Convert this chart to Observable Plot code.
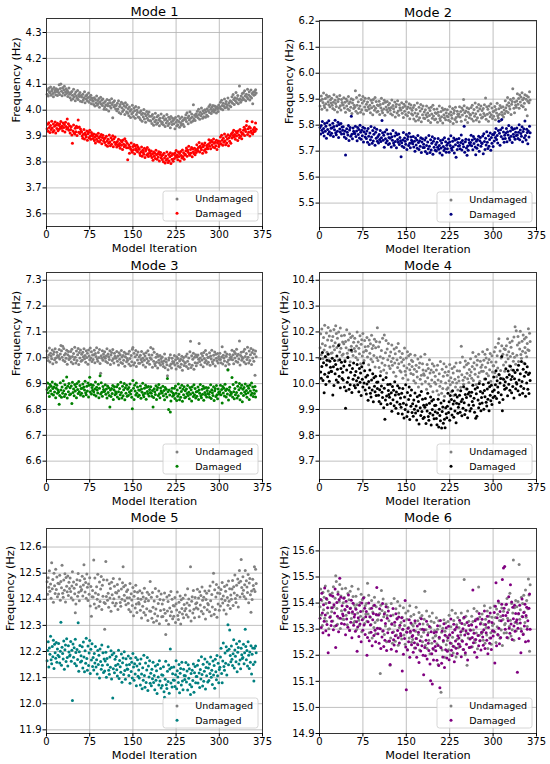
<!DOCTYPE html>
<html><head><meta charset="utf-8">
<script src="https://cdn.jsdelivr.net/npm/d3@7"></script>
<script src="https://cdn.jsdelivr.net/npm/@observablehq/plot@0.6"></script>
<style>
body{margin:0;background:#fff;}
#wrap{position:relative;width:550px;height:764px;font-family:"DejaVu Sans",sans-serif;overflow:hidden;}
#wrap svg{position:absolute;}
#wrap svg, #wrap svg text{font-family:"DejaVu Sans",sans-serif !important;}
</style></head><body><div id="wrap"></div>
<script>
const xTicks=[0,75,150,225,300,375];
const titles=["Mode 1","Mode 2","Mode 3","Mode 4","Mode 5","Mode 6"];
const legendLabels=["Undamaged","Damaged"];
const xLabel="Model Iteration";
const yLabel="Frequency (Hz)";
const undamagedColor="#808080";
const damagedColors=["#ff0000","#000080","#008000","#000000","#008080","#800080"];
const yTicks1=[3.6,3.7,3.8,3.9,4.0,4.1,4.2,4.3];
const yTicks2=[5.5,5.6,5.7,5.8,5.9,6.0,6.1,6.2];
const yTicks3=[6.6,6.7,6.8,6.9,7.0,7.1,7.2,7.3];
const yTicks4=[9.7,9.8,9.9,10.0,10.1,10.2,10.3,10.4];
const yTicks5=[11.9,12.0,12.1,12.2,12.3,12.4,12.5,12.6];
const yTicks6=[14.9,15.0,15.1,15.2,15.3,15.4,15.5,15.6];

const m1Undamaged=[
4.062,4.078,4.055,4.085,4.071,4.066,4.09,4.058,4.074,4.081,4.064,4.052,4.088,4.069,4.077,4.06,4.083,4.072,4.057,4.079,
4.068,4.098,4.061,4.084,4.101,4.073,4.056,4.087,4.066,4.079,4.092,4.059,4.071,4.083,4.064,4.076,4.053,4.069,4.086,4.062,
4.048,4.067,4.039,4.072,4.058,4.044,4.081,4.052,4.063,4.036,4.07,4.055,4.046,4.076,4.041,4.061,4.053,4.068,4.035,4.057,
4.051,4.033,4.062,4.04,4.048,4.071,4.029,4.055,4.043,4.06,4.036,4.049,4.066,4.031,4.052,4.041,4.058,4.025,4.047,4.038,
4.035,4.022,4.048,4.016,4.041,4.029,4.055,4.019,4.037,4.026,4.045,4.011,4.033,4.05,4.024,4.039,4.018,4.043,4.028,4.004,
4.012,4.034,4.021,4.003,4.041,4.017,4.026,3.997,4.038,4.015,4.029,4.008,4.044,4.022,3.971,4.031,4.013,4.036,4.019,4.006,
4.018,3.998,4.027,4.005,4.036,3.991,4.014,4.022,3.986,4.031,4.009,3.995,4.025,4.002,4.017,3.983,4.029,4.011,3.993,4.021,
3.988,4.006,3.979,4.012,3.996,3.972,4.003,3.985,4.019,3.991,3.976,4.008,3.998,3.969,4.014,3.983,4.001,3.992,3.974,4.01,
3.972,3.991,3.964,3.998,3.983,3.957,3.988,3.975,4.003,3.966,3.986,3.953,3.979,3.995,3.969,3.984,3.961,3.993,3.977,3.959,
3.958,3.977,3.949,3.983,3.966,3.942,3.972,3.955,3.988,3.961,3.946,3.975,3.952,3.98,3.963,3.94,3.969,3.957,3.985,3.948,
3.953,3.971,3.944,3.978,3.962,3.937,3.967,3.951,3.983,3.958,3.941,3.973,3.949,3.965,3.932,3.976,3.955,3.945,3.969,3.96,
3.948,3.966,3.928,3.972,3.953,3.939,3.961,3.944,3.977,3.956,3.934,3.968,3.951,3.942,3.974,3.958,3.946,3.963,3.937,3.97,
3.965,3.982,3.956,3.99,3.971,3.948,3.978,3.962,3.994,3.969,3.953,3.985,3.974,3.958,4.021,3.967,3.981,3.96,3.976,3.986,
3.978,3.996,3.971,4.004,3.983,3.965,3.992,3.979,4.008,3.986,3.969,3.998,3.975,3.989,4.002,3.973,3.994,3.981,4.006,3.977,
3.998,4.014,3.991,4.021,4.004,3.987,4.011,3.996,4.018,4.003,3.993,4.016,4.001,4.009,3.989,4.013,4.006,3.995,4.02,4.008,
4.012,4.031,4.006,4.038,4.018,4.002,4.027,4.015,4.043,4.009,4.024,4.034,4.011,4.021,4.047,4.005,4.029,4.017,4.036,4.013,
4.033,4.052,4.027,4.061,4.041,4.022,4.048,4.036,4.068,4.03,4.045,4.057,4.025,4.039,4.093,4.044,4.031,4.055,4.038,4.064,
4.048,4.067,4.041,4.075,4.056,4.036,4.062,4.05,4.081,4.044,4.059,4.071,4.039,4.053,4.078,4.047,4.064,4.025,4.069,4.058,
4.072,4.061,4.079,4.066];
const m1Damaged=[
3.928,3.946,3.919,3.952,3.933,3.914,3.941,3.925,3.957,3.931,3.916,3.947,3.922,3.938,3.954,3.912,3.943,3.929,3.95,3.921,
3.942,3.926,3.947,3.935,3.956,3.93,3.939,3.921,3.951,3.933,3.945,3.916,3.953,3.937,3.927,3.966,3.932,3.948,3.923,3.94,
3.912,3.925,3.936,3.904,3.872,3.92,3.943,3.913,3.908,3.93,3.917,3.938,3.902,3.933,3.962,3.915,3.935,3.91,3.927,3.919,
3.917,3.9,3.892,3.907,3.925,3.889,3.912,3.904,3.897,3.92,3.884,3.909,3.915,3.894,3.923,3.899,3.888,3.914,3.906,3.901,
3.891,3.908,3.883,3.897,3.873,3.905,3.888,3.9,3.88,3.911,3.894,3.877,3.898,3.885,3.906,3.87,3.895,3.903,3.882,3.89,
3.875,3.893,3.866,3.899,3.88,3.861,3.888,3.872,3.904,3.878,3.863,3.894,3.869,3.885,3.901,3.859,3.89,3.876,3.897,3.868,
3.874,3.858,3.879,3.867,3.888,3.862,3.871,3.853,3.883,3.865,3.877,3.848,3.885,3.869,3.859,3.89,3.864,3.88,3.855,3.872,
3.809,3.855,3.866,3.834,3.858,3.85,3.873,3.843,3.838,3.86,3.847,3.868,3.832,3.863,3.852,3.845,3.865,3.84,3.857,3.849,
3.85,3.833,3.825,3.84,3.858,3.822,3.845,3.837,3.83,3.853,3.817,3.842,3.848,3.827,3.856,3.832,3.821,3.847,3.839,3.834,
3.825,3.842,3.817,3.831,3.807,3.839,3.822,3.834,3.814,3.845,3.828,3.811,3.832,3.819,3.84,3.804,3.829,3.837,3.816,3.824,
3.81,3.828,3.801,3.834,3.815,3.796,3.823,3.807,3.839,3.813,3.798,3.829,3.804,3.82,3.836,3.794,3.825,3.811,3.832,3.803,
3.83,3.814,3.835,3.823,3.844,3.818,3.827,3.809,3.839,3.821,3.833,3.804,3.841,3.825,3.815,3.846,3.82,3.836,3.811,3.828,
3.83,3.843,3.854,3.822,3.846,3.838,3.861,3.831,3.826,3.848,3.835,3.856,3.82,3.851,3.84,3.833,3.853,3.828,3.845,3.837,
3.867,3.85,3.842,3.857,3.875,3.839,3.862,3.854,3.847,3.87,3.834,3.859,3.865,3.844,3.873,3.849,3.838,3.864,3.856,3.851,
3.869,3.886,3.861,3.875,3.851,3.883,3.866,3.878,3.858,3.889,3.872,3.855,3.876,3.863,3.884,3.848,3.873,3.881,3.86,3.868,
3.879,3.897,3.87,3.903,3.884,3.865,3.892,3.876,3.908,3.882,3.867,3.898,3.873,3.889,3.905,3.863,3.894,3.88,3.901,3.872,
3.909,3.893,3.914,3.902,3.923,3.897,3.906,3.888,3.918,3.9,3.912,3.883,3.92,3.904,3.894,3.925,3.899,3.915,3.89,3.907,
3.91,3.923,3.934,3.902,3.926,3.918,3.941,3.957,3.906,3.928,3.915,3.936,3.9,3.931,3.92,3.913,3.955,3.908,3.925,3.917,
3.933,3.919,3.951,3.926];
const m2Undamaged=[
5.874,5.895,5.912,5.861,5.9,5.887,5.924,5.876,5.868,5.903,5.882,5.916,5.858,5.908,5.89,5.879,5.911,5.871,5.898,5.885,
5.904,5.877,5.864,5.888,5.917,5.859,5.896,5.883,5.872,5.909,5.851,5.891,5.901,5.867,5.914,5.875,5.858,5.899,5.887,5.879,
5.878,5.906,5.866,5.888,5.85,5.901,5.874,5.893,5.861,5.91,5.883,5.856,5.89,5.869,5.902,5.845,5.885,5.898,5.864,5.877,
5.869,5.933,5.854,5.907,5.877,5.846,5.89,5.864,5.915,5.874,5.85,5.899,5.859,5.885,5.91,5.843,5.893,5.87,5.904,5.858,
5.881,5.856,5.889,5.87,5.904,5.862,5.877,5.848,5.896,5.867,5.886,5.84,5.899,5.873,5.857,5.907,5.865,5.891,5.851,5.878,
5.854,5.875,5.892,5.841,5.88,5.867,5.904,5.856,5.848,5.883,5.862,5.896,5.838,5.888,5.87,5.859,5.891,5.851,5.878,5.865,
5.884,5.857,5.844,5.868,5.897,5.839,5.876,5.863,5.852,5.889,5.831,5.871,5.881,5.847,5.894,5.855,5.838,5.879,5.867,5.859,
5.858,5.886,5.846,5.868,5.83,5.881,5.854,5.873,5.841,5.89,5.863,5.836,5.87,5.849,5.882,5.825,5.865,5.878,5.844,5.857,
5.839,5.868,5.824,5.877,5.847,5.816,5.86,5.834,5.885,5.844,5.82,5.869,5.829,5.855,5.88,5.813,5.863,5.84,5.874,5.828,
5.851,5.826,5.859,5.84,5.874,5.832,5.847,5.818,5.866,5.837,5.856,5.81,5.869,5.843,5.827,5.877,5.835,5.861,5.821,5.848,
5.824,5.845,5.862,5.811,5.85,5.837,5.874,5.826,5.818,5.853,5.832,5.866,5.808,5.858,5.84,5.829,5.861,5.821,5.848,5.835,
5.859,5.832,5.819,5.843,5.872,5.814,5.851,5.838,5.827,5.864,5.806,5.846,5.856,5.822,5.869,5.83,5.813,5.854,5.842,5.834,
5.843,5.871,5.831,5.853,5.815,5.866,5.839,5.858,5.899,5.875,5.848,5.821,5.855,5.834,5.867,5.81,5.85,5.863,5.829,5.842,
5.839,5.868,5.824,5.877,5.847,5.816,5.86,5.834,5.885,5.844,5.82,5.869,5.829,5.855,5.88,5.813,5.863,5.84,5.874,5.828,
5.856,5.831,5.864,5.845,5.879,5.837,5.905,5.823,5.871,5.842,5.861,5.815,5.874,5.848,5.832,5.882,5.84,5.866,5.826,5.853,
5.834,5.855,5.872,5.821,5.86,5.847,5.884,5.836,5.828,5.863,5.842,5.876,5.818,5.868,5.85,5.839,5.871,5.831,5.858,5.845,
5.894,5.867,5.854,5.878,5.907,5.849,5.886,5.873,5.862,5.899,5.841,5.881,5.891,5.94,5.904,5.865,5.848,5.889,5.877,5.869,
5.893,5.921,5.881,5.903,5.865,5.916,5.889,5.908,5.876,5.925,5.898,5.871,5.905,5.884,5.917,5.86,5.9,5.913,5.836,5.892,
5.908,5.886,5.929,5.897];
const m2Damaged=[
5.791,5.766,5.799,5.78,5.814,5.772,5.787,5.758,5.806,5.777,5.796,5.75,5.809,5.783,5.767,5.817,5.775,5.801,5.761,5.788,
5.769,5.79,5.807,5.756,5.795,5.782,5.819,5.771,5.763,5.798,5.777,5.811,5.753,5.803,5.785,5.774,5.806,5.766,5.793,5.78,
5.794,5.767,5.754,5.778,5.685,5.749,5.786,5.773,5.762,5.799,5.741,5.781,5.791,5.757,5.834,5.765,5.748,5.789,5.777,5.769,
5.768,5.796,5.756,5.778,5.74,5.791,5.764,5.783,5.751,5.8,5.773,5.746,5.78,5.759,5.792,5.735,5.775,5.788,5.754,5.767,
5.749,5.778,5.734,5.787,5.757,5.726,5.77,5.744,5.795,5.754,5.73,5.779,5.739,5.765,5.79,5.723,5.773,5.75,5.784,5.738,
5.756,5.731,5.764,5.745,5.779,5.737,5.752,5.818,5.771,5.742,5.761,5.715,5.774,5.748,5.732,5.782,5.74,5.766,5.726,5.753,
5.729,5.75,5.767,5.716,5.755,5.742,5.779,5.731,5.723,5.758,5.737,5.771,5.713,5.763,5.745,5.734,5.766,5.726,5.753,5.74,
5.678,5.732,5.719,5.743,5.772,5.714,5.751,5.738,5.727,5.764,5.706,5.746,5.756,5.722,5.769,5.73,5.713,5.754,5.742,5.734,
5.728,5.756,5.716,5.738,5.7,5.751,5.724,5.743,5.711,5.76,5.733,5.706,5.74,5.719,5.752,5.695,5.735,5.748,5.714,5.727,
5.714,5.743,5.699,5.752,5.722,5.691,5.735,5.709,5.76,5.719,5.695,5.744,5.704,5.73,5.755,5.688,5.738,5.715,5.749,5.703,
5.726,5.701,5.734,5.715,5.749,5.707,5.722,5.693,5.741,5.712,5.731,5.685,5.744,5.718,5.702,5.752,5.71,5.736,5.696,5.723,
5.709,5.73,5.747,5.696,5.735,5.722,5.759,5.711,5.703,5.738,5.717,5.751,5.693,5.743,5.725,5.676,5.746,5.706,5.733,5.72,
5.749,5.722,5.709,5.733,5.762,5.704,5.741,5.728,5.717,5.796,5.696,5.736,5.746,5.712,5.684,5.72,5.703,5.744,5.732,5.724,
5.733,5.761,5.721,5.743,5.705,5.756,5.729,5.748,5.716,5.686,5.738,5.711,5.745,5.724,5.757,5.7,5.74,5.753,5.719,5.732,
5.729,5.758,5.69,5.767,5.737,5.706,5.75,5.724,5.775,5.734,5.71,5.759,5.719,5.745,5.77,5.703,5.753,5.73,5.764,5.718,
5.764,5.739,5.772,5.753,5.787,5.745,5.76,5.731,5.779,5.815,5.769,5.723,5.782,5.756,5.822,5.79,5.748,5.774,5.734,5.761,
5.749,5.77,5.787,5.736,5.775,5.762,5.799,5.751,5.743,5.778,5.757,5.791,5.733,5.783,5.765,5.754,5.786,5.746,5.773,5.76,
5.789,5.762,5.749,5.773,5.802,5.744,5.781,5.768,5.757,5.794,5.736,5.776,5.786,5.752,5.816,5.76,5.743,5.784,5.772,5.728,
5.778,5.754,5.796,5.771];
const m3Undamaged=[
7.026,7.001,6.989,7.011,7.038,6.984,7.018,7.007,6.996,7.03,6.977,7.014,7.023,6.992,7.035,6.999,6.983,7.021,7.009,7.002,
7.007,7.032,6.995,7.015,7.048,7.027,7.002,7.045,6.99,7.036,7.011,6.986,7.017,6.998,7.029,6.975,7.012,7.024,6.993,7.005,
6.998,7.024,6.984,7.033,7.005,6.977,7.017,6.993,7.041,7.002,6.98,7.026,6.989,7.012,7.036,6.974,7.02,6.999,7.03,6.987,
7.014,6.99,7.021,7.004,7.035,6.996,7.009,6.983,7.027,7.001,7.018,6.975,7.03,7.007,6.992,7.038,6.999,7.023,6.986,7.011,
6.993,7.012,7.029,6.981,7.017,7.005,7.039,6.995,6.987,7.02,7.001,7.032,6.978,6.94,7.008,6.998,7.027,6.99,7.015,7.004,
7.023,6.998,6.986,7.008,7.035,6.981,7.015,7.004,6.993,7.027,6.974,7.011,7.02,6.989,7.032,6.996,6.98,7.018,7.006,6.999,
6.999,7.024,6.987,7.007,6.972,7.019,6.994,7.012,6.982,7.028,7.003,6.978,7.009,6.99,7.021,6.967,7.004,7.016,6.985,6.997,
6.99,7.016,6.976,7.025,6.997,6.969,7.009,6.985,7.033,7.04,6.972,7.018,6.981,7.004,7.028,6.966,7.012,6.991,7.022,6.979,
7.003,6.979,7.01,6.993,7.024,6.985,6.998,6.972,7.016,6.99,7.007,6.964,7.019,6.996,6.981,7.027,6.988,7.012,6.975,7.0,
7.04,6.994,7.011,6.963,7.034,6.987,7.021,6.977,6.969,7.002,6.983,7.014,6.96,7.006,6.99,6.98,7.009,6.972,6.997,6.986,
7.003,6.978,6.966,6.988,7.015,6.961,6.995,6.984,6.973,6.93,6.954,6.991,7.0,6.969,7.012,6.976,6.96,6.998,6.986,6.979,
6.984,7.009,6.972,6.992,6.957,7.004,6.979,6.997,6.967,7.013,6.988,6.963,6.994,6.975,7.006,6.952,6.989,7.001,6.97,6.982,
6.98,7.006,6.966,7.015,6.987,6.959,6.999,6.975,7.023,7.064,6.962,7.008,6.971,6.994,7.018,6.956,7.002,6.981,7.012,6.969,
7.004,6.98,7.011,6.994,7.055,6.986,6.999,6.973,7.017,6.991,7.008,6.965,7.02,6.997,6.982,7.028,6.989,7.013,6.976,7.001,
6.983,7.002,7.019,6.971,7.007,6.995,7.029,6.985,6.977,7.01,6.991,7.022,6.968,7.014,6.998,6.988,7.017,6.98,7.005,6.994,
7.018,6.993,6.981,7.003,7.043,6.976,7.01,6.999,6.988,7.022,6.969,7.006,7.015,6.984,6.955,6.991,6.975,7.013,7.001,6.994,
7.004,7.029,6.992,7.012,6.977,7.024,6.999,7.017,6.987,7.033,7.008,6.983,7.014,6.995,7.065,6.972,7.009,7.021,6.99,7.002,
6.998,7.024,6.984,7.033,7.005,6.977,7.017,6.993,7.041,7.002,6.98,7.026,6.989,7.012,7.036,6.974,7.02,6.999,7.03,6.987,
7.015,6.932,7.026,7.004];
const m3Damaged=[
6.877,6.902,6.865,6.885,6.85,6.897,6.872,6.89,6.86,6.906,6.881,6.856,6.887,6.868,6.899,6.845,6.882,6.894,6.863,6.875,
6.868,6.82,6.854,6.903,6.875,6.847,6.887,6.863,6.911,6.872,6.85,6.896,6.859,6.882,6.926,6.844,6.89,6.869,6.9,6.857,
6.884,6.86,6.891,6.823,6.905,6.866,6.879,6.853,6.897,6.871,6.888,6.845,6.9,6.877,6.862,6.908,6.869,6.893,6.856,6.881,
6.863,6.882,6.899,6.851,6.887,6.875,6.909,6.865,6.857,6.89,6.871,6.902,6.848,6.894,6.925,6.868,6.897,6.86,6.885,6.874,
6.894,6.869,6.857,6.879,6.906,6.852,6.886,6.875,6.864,6.898,6.845,6.882,6.93,6.86,6.903,6.867,6.851,6.889,6.877,6.87,
6.871,6.896,6.859,6.879,6.844,6.891,6.866,6.884,6.854,6.81,6.875,6.85,6.881,6.862,6.893,6.839,6.876,6.888,6.857,6.869,
6.862,6.888,6.848,6.897,6.869,6.841,6.881,6.857,6.905,6.866,6.844,6.89,6.853,6.876,6.9,6.838,6.884,6.863,6.894,6.851,
6.878,6.854,6.885,6.868,6.899,6.86,6.873,6.847,6.803,6.912,6.882,6.839,6.894,6.871,6.856,6.902,6.863,6.887,6.85,6.875,
6.855,6.874,6.891,6.843,6.879,6.867,6.901,6.857,6.849,6.882,6.863,6.894,6.84,6.886,6.87,6.86,6.889,6.852,6.877,6.866,
6.888,6.863,6.851,6.873,6.81,6.846,6.88,6.869,6.858,6.892,6.839,6.876,6.885,6.854,6.897,6.861,6.845,6.883,6.871,6.864,
6.865,6.89,6.853,6.873,6.838,6.885,6.86,6.878,6.848,6.92,6.869,6.8,6.875,6.856,6.79,6.833,6.87,6.882,6.851,6.863,
6.856,6.882,6.842,6.891,6.863,6.835,6.875,6.851,6.899,6.86,6.838,6.884,6.847,6.87,6.894,6.832,6.878,6.857,6.888,6.845,
6.872,6.848,6.879,6.862,6.893,6.854,6.867,6.841,6.885,6.859,6.876,6.833,6.888,6.865,6.85,6.896,6.857,6.881,6.844,6.869,
6.851,6.87,6.887,6.839,6.875,6.863,6.897,6.853,6.845,6.878,6.859,6.89,6.836,6.882,6.866,6.856,6.885,6.848,6.873,6.862,
6.884,6.859,6.847,6.869,6.896,6.842,6.876,6.865,6.854,6.888,6.835,6.872,6.881,6.85,6.893,6.857,6.841,6.879,6.867,6.86,
6.869,6.894,6.857,6.877,6.825,6.889,6.864,6.882,6.852,6.898,6.873,6.848,6.879,6.86,6.953,6.837,6.874,6.886,6.855,6.867,
6.862,6.924,6.848,6.897,6.869,6.841,6.881,6.857,6.905,6.866,6.844,6.89,6.853,6.876,6.9,6.838,6.884,6.863,6.894,6.83,
6.878,6.854,6.885,6.868,6.899,6.86,6.873,6.847,6.891,6.865,6.882,6.839,6.894,6.871,6.856,6.902,6.863,6.887,6.85,6.875,
6.862,6.889,6.848,6.871];
const m4Undamaged=[
10.139,10.193,10.112,10.211,10.154,10.097,10.178,10.13,10.226,10.148,10.103,10.196,10.121,10.169,10.217,10.091,10.184,10.142,10.205,10.118,
10.167,10.119,10.182,10.146,10.209,10.131,10.158,10.224,10.194,10.14,10.176,10.089,10.2,10.152,10.122,10.215,10.137,10.185,10.11,10.161,
10.115,10.154,10.187,10.091,10.163,10.139,10.208,10.118,10.103,10.169,10.13,10.193,10.085,10.178,10.145,10.124,10.184,10.109,10.16,10.136,
10.176,10.125,10.101,10.146,10.2,10.092,10.161,10.137,10.116,10.185,10.077,10.152,10.17,10.107,10.194,10.122,10.089,10.167,10.143,10.128,
10.127,10.178,10.103,10.145,10.073,10.169,10.118,10.154,10.094,10.187,10.136,10.085,10.148,10.109,10.172,10.064,10.139,10.163,10.1,10.216,
10.089,10.143,10.062,10.161,10.104,10.047,10.128,10.08,10.176,10.098,10.053,10.188,10.071,10.119,10.167,10.041,10.134,10.092,10.155,10.068,
10.107,10.059,10.122,10.086,10.149,10.071,10.098,10.044,10.134,10.08,10.116,10.029,10.14,10.092,10.062,10.155,10.077,10.125,10.05,10.101,
10.045,10.084,10.117,10.021,10.093,10.069,10.138,10.048,10.033,10.099,10.06,10.123,10.015,10.108,10.075,10.054,10.114,10.039,10.09,10.066,
10.086,10.035,10.011,10.056,10.11,10.002,10.071,10.047,10.026,10.095,9.987,10.062,10.08,10.017,10.104,10.032,9.999,10.077,10.053,10.038,
10.032,10.114,10.008,10.05,9.978,10.074,10.023,10.059,9.999,10.092,10.041,9.99,10.053,10.014,10.077,9.969,10.044,10.068,10.005,10.029,
9.999,10.053,9.972,10.071,10.014,9.957,10.038,9.99,10.086,10.008,9.963,10.056,9.981,10.029,10.077,9.951,10.044,10.002,10.065,9.978,
10.032,9.984,10.047,10.011,10.074,9.996,10.023,9.969,10.059,10.005,10.041,9.954,10.065,10.017,9.987,10.08,10.002,10.05,9.975,10.026,
10.01,10.049,10.082,9.986,10.145,10.034,10.103,10.013,9.998,10.064,10.025,10.088,9.98,10.073,10.04,10.019,10.079,10.004,10.055,10.031,
10.096,10.045,10.021,10.066,10.12,10.012,10.081,10.057,10.036,10.105,9.997,10.072,10.09,10.027,10.114,10.042,10.009,10.087,10.063,10.048,
10.072,10.123,10.048,10.09,10.018,10.114,10.063,10.099,10.039,10.132,10.081,10.03,10.093,10.054,10.117,10.009,10.084,10.108,10.045,10.069,
10.069,10.123,10.042,10.141,10.084,10.027,10.108,10.06,10.156,10.174,10.033,10.126,10.051,10.099,10.147,10.021,10.114,10.072,10.135,10.048,
10.132,10.084,10.147,10.111,10.174,10.096,10.123,10.069,10.159,10.105,10.141,10.054,10.165,10.117,10.087,10.18,10.102,10.22,10.075,10.205,
10.11,10.149,10.182,10.086,10.158,10.134,10.203,10.113,10.098,10.164,10.125,10.188,10.08,10.173,10.14,10.119,10.179,10.104,10.155,10.131,
10.212,10.128,10.195,10.163];
const m4Damaged=[
10.096,10.045,10.021,10.066,10.12,10.012,10.081,9.965,10.036,10.105,9.997,10.072,10.09,10.027,10.114,10.042,10.009,10.087,10.063,10.048,
10.047,10.098,9.956,10.065,9.993,10.089,10.038,10.074,10.014,10.107,10.056,10.005,10.148,10.029,10.092,9.984,10.059,10.083,10.02,10.044,
10.014,10.068,9.987,10.086,9.905,9.972,10.053,10.005,10.101,10.023,9.978,10.071,9.996,10.044,10.13,9.966,10.059,10.017,10.08,9.993,
10.032,9.984,10.047,10.011,10.074,9.996,10.023,9.969,10.059,10.005,10.041,9.954,10.065,10.017,9.987,10.08,10.002,10.05,9.975,10.026,
9.96,9.999,10.032,9.936,10.008,9.984,10.053,9.963,9.948,10.014,9.975,10.038,9.93,10.023,9.99,9.969,10.029,9.954,10.005,9.981,
10.006,9.955,9.931,9.976,10.03,9.922,9.991,9.967,9.946,10.015,9.907,9.982,9.862,9.937,10.024,9.952,9.919,9.997,9.973,9.958,
9.947,9.998,9.923,9.965,9.893,9.989,9.938,9.974,9.914,10.007,9.956,9.905,9.968,9.929,9.992,9.884,9.959,9.983,9.92,9.944,
9.909,9.963,9.882,9.981,9.924,9.867,9.948,9.9,9.996,9.918,9.873,9.966,9.891,9.939,9.987,9.861,9.954,9.912,9.975,9.888,
9.922,9.874,9.937,9.901,9.964,9.886,9.913,9.859,9.949,9.895,9.931,9.844,9.955,9.907,9.877,9.97,9.892,9.94,9.865,9.916,
9.87,9.909,9.942,9.846,9.918,9.894,9.963,9.873,9.858,9.924,9.885,9.948,9.84,9.933,9.9,9.879,9.939,9.864,9.915,9.891,
9.916,9.865,9.841,9.886,9.94,9.832,9.901,9.877,9.856,9.925,9.828,9.892,9.91,9.847,9.934,9.862,9.829,9.907,9.883,9.868,
9.912,9.963,9.888,9.93,9.858,9.954,9.903,9.939,9.879,9.972,9.921,9.87,9.933,9.894,9.957,9.849,9.924,9.948,9.885,9.909,
9.921,9.955,9.889,9.972,9.931,9.876,9.94,9.905,9.988,9.926,9.881,9.958,9.897,9.946,9.979,9.868,9.96,9.917,9.967,9.894,
9.952,9.904,9.967,9.931,9.994,9.916,9.943,9.889,9.979,9.866,9.961,9.874,9.985,9.937,9.907,10.0,9.922,9.97,9.895,9.946,
9.925,9.964,9.997,9.901,9.973,9.949,10.018,9.928,9.913,9.979,9.94,10.003,9.895,9.988,9.955,9.934,9.994,9.919,9.97,9.946,
10.026,9.975,9.951,9.996,10.05,9.942,10.011,9.987,9.966,10.035,9.927,10.002,10.02,9.957,10.105,9.895,9.939,10.017,9.993,9.978,
10.007,10.058,9.983,10.025,9.953,10.049,9.998,10.034,9.974,10.067,10.016,9.965,10.028,9.989,10.052,9.944,10.019,10.043,9.98,10.004,
9.999,10.053,9.972,10.071,10.014,9.957,10.038,9.99,10.086,10.008,9.963,10.056,9.981,10.029,10.077,9.951,10.044,10.002,10.065,9.978,
10.035,9.962,10.041,10.012];
const m5Undamaged=[
12.467,12.419,12.482,12.446,12.509,12.431,12.458,12.404,12.54,12.44,12.476,12.389,12.5,12.452,12.422,12.515,12.437,12.485,12.41,12.461,
12.42,12.459,12.492,12.396,12.468,12.444,12.53,12.423,12.408,12.474,12.435,12.498,12.39,12.483,12.45,12.429,12.489,12.414,12.465,12.441,
12.481,12.43,12.406,12.451,12.505,12.397,12.466,12.442,12.421,12.348,12.382,12.457,12.475,12.412,12.499,12.427,12.394,12.472,12.448,12.433,
12.437,12.488,12.413,12.455,12.532,12.479,12.428,12.464,12.404,12.497,12.446,12.395,12.458,12.419,12.482,12.374,12.449,12.335,12.41,12.434,
12.409,12.55,12.382,12.481,12.424,12.367,12.448,12.4,12.496,12.418,12.373,12.466,12.391,12.439,12.487,12.361,12.454,12.412,12.475,12.388,
12.285,12.384,12.545,12.411,12.474,12.396,12.423,12.369,12.459,12.405,12.441,12.354,12.465,12.417,12.387,12.48,12.402,12.45,12.375,12.426,
12.385,12.424,12.457,12.361,12.433,12.409,12.478,12.388,12.373,12.439,12.4,12.463,12.525,12.448,12.415,12.394,12.454,12.379,12.43,12.406,
12.436,12.385,12.361,12.406,12.46,12.352,12.421,12.397,12.376,12.445,12.337,12.412,12.43,12.367,12.454,12.382,12.349,12.427,12.403,12.388,
12.382,12.433,12.358,12.4,12.328,12.424,12.373,12.409,12.349,12.442,12.391,12.34,12.403,12.364,12.427,12.319,12.394,12.418,12.355,12.468,
12.354,12.408,12.327,12.426,12.369,12.312,12.393,12.345,12.441,12.363,12.318,12.411,12.336,12.384,12.432,12.306,12.399,12.357,12.42,12.333,
12.382,12.334,12.397,12.361,12.424,12.346,12.265,12.319,12.409,12.355,12.391,12.304,12.415,12.367,12.337,12.43,12.352,12.4,12.325,12.376,
12.335,12.374,12.407,12.311,12.383,12.359,12.428,12.338,12.323,12.389,12.35,12.413,12.305,12.398,12.365,12.344,12.404,12.329,12.38,12.356,
12.416,12.365,12.341,12.386,12.44,12.332,12.401,12.377,12.356,12.525,12.317,12.392,12.41,12.347,12.434,12.362,12.329,12.407,12.383,12.368,
12.387,12.438,12.363,12.405,12.333,12.429,12.378,12.414,12.354,12.447,12.396,12.345,12.408,12.369,12.432,12.324,12.399,12.423,12.36,12.384,
12.379,12.433,12.352,12.451,12.394,12.337,12.418,12.37,12.466,12.5,12.343,12.436,12.361,12.409,12.457,12.331,12.424,12.382,12.445,12.358,
12.422,12.374,12.437,12.401,12.464,12.386,12.413,12.359,12.449,12.395,12.431,12.344,12.455,12.407,12.377,12.47,12.392,12.44,12.365,12.416,
12.4,12.439,12.472,12.376,12.448,12.424,12.493,12.403,12.388,12.454,12.415,12.478,12.37,12.463,12.51,12.409,12.469,12.552,12.445,12.421,
12.486,12.435,12.411,12.456,12.51,12.402,12.471,12.447,12.426,12.495,12.387,12.462,12.48,12.417,12.35,12.432,12.399,12.477,12.453,12.438,
12.525,12.43,12.515,12.46];
const m5Damaged=[
12.165,12.204,12.237,12.141,12.213,12.189,12.258,12.168,12.153,12.219,12.18,12.243,12.135,12.228,12.195,12.174,12.234,12.159,12.21,12.186,
12.231,12.18,12.156,12.201,12.312,12.147,12.216,12.192,12.171,12.24,12.132,12.207,12.225,12.162,12.249,12.177,12.144,12.222,12.198,12.183,
12.187,12.238,12.163,12.205,12.012,12.229,12.178,12.214,12.154,12.247,12.196,12.145,12.208,12.169,12.31,12.124,12.199,12.223,12.16,12.184,
12.164,12.218,12.137,12.236,12.179,12.122,12.203,12.155,12.251,12.173,12.128,12.221,12.146,12.194,12.242,12.116,12.209,12.167,12.23,12.143,
12.177,12.129,12.192,12.156,12.219,12.141,12.168,12.114,12.204,12.15,12.186,12.099,12.21,12.162,12.132,12.225,12.147,12.195,12.12,12.171,
12.125,12.164,12.197,12.101,12.173,12.149,12.218,12.128,12.113,12.179,12.14,12.203,12.095,12.188,12.022,12.134,12.194,12.119,12.17,12.146,
12.181,12.13,12.106,12.151,12.205,12.097,12.166,12.142,12.121,12.19,12.082,12.157,12.175,12.112,12.199,12.127,12.094,12.172,12.148,12.133,
12.132,12.183,12.108,12.15,12.078,12.174,12.123,12.159,12.099,12.192,12.141,12.09,12.153,12.114,12.177,12.069,12.144,12.168,12.105,12.129,
12.099,12.153,12.072,12.171,12.114,12.057,12.138,12.09,12.186,12.108,12.063,12.156,12.081,12.129,12.177,12.051,12.144,12.102,12.165,12.078,
12.117,12.069,12.132,12.096,12.159,12.081,12.108,12.054,12.144,12.09,12.126,12.039,12.15,12.102,12.072,12.165,12.087,12.135,12.06,12.111,
12.07,12.109,12.142,12.046,12.025,12.094,12.163,12.073,12.058,12.124,12.085,12.148,12.04,12.133,12.21,12.079,12.139,12.064,12.115,12.091,
12.141,12.09,12.066,12.111,12.165,12.057,12.126,12.102,12.081,12.15,12.042,12.117,12.135,12.072,12.159,12.087,12.054,12.132,12.108,12.093,
12.107,12.158,12.083,12.125,12.053,12.149,12.098,12.134,12.074,12.035,12.116,12.065,12.128,12.089,12.152,12.044,12.119,12.143,12.08,12.104,
12.104,12.147,12.079,12.166,12.118,12.062,12.131,12.095,12.18,12.112,12.068,12.151,12.086,12.124,12.171,12.056,12.139,12.107,12.16,12.083,
12.137,12.089,12.152,12.116,12.179,12.101,12.128,12.074,12.164,12.11,12.146,12.059,12.17,12.122,12.092,12.185,12.107,12.155,12.08,12.131,
12.14,12.179,12.212,12.116,12.08,12.164,12.233,12.143,12.128,12.194,12.155,12.218,12.11,12.203,12.302,12.149,12.209,12.282,12.185,12.161,
12.221,12.17,12.146,12.191,12.245,12.137,12.206,12.182,12.161,12.23,12.122,12.197,12.215,12.152,12.239,12.167,12.134,12.212,12.188,12.173,
12.177,12.228,12.153,12.195,12.285,12.219,12.168,12.204,12.144,12.237,12.186,12.135,12.198,12.159,12.222,12.114,12.189,12.213,12.15,12.087,
12.212,12.16,12.221,12.195];
const m6Undamaged=[
15.386,15.454,15.354,15.41,15.314,15.442,15.374,15.422,15.342,15.466,15.398,15.33,15.414,15.362,15.446,15.302,15.402,15.434,15.35,15.382,
15.367,15.439,15.331,15.463,15.387,15.311,15.419,15.505,15.483,15.379,15.319,15.443,15.343,15.407,15.471,15.303,15.427,15.371,15.455,15.339,
15.401,15.337,15.421,15.373,15.457,15.353,15.389,15.317,15.437,15.365,15.413,15.297,15.445,15.381,15.341,15.465,15.361,15.425,15.325,15.393,
15.33,15.382,15.426,15.298,15.394,15.362,15.454,15.334,15.314,15.402,15.35,15.434,15.29,15.414,15.37,15.342,15.422,15.322,15.39,15.358,
15.398,15.33,15.476,15.358,15.43,15.286,15.378,15.346,15.318,15.41,15.266,15.366,15.39,15.306,15.422,15.326,15.282,15.386,15.354,15.334,
15.336,15.404,15.304,15.36,15.13,15.392,15.448,15.372,15.292,15.416,15.348,15.28,15.364,15.312,15.396,15.252,15.352,15.384,15.3,15.332,
15.302,15.162,15.266,15.398,15.322,15.246,15.354,15.29,15.418,15.314,15.254,15.378,15.278,15.342,15.406,15.238,15.362,15.306,15.39,15.274,
15.326,15.262,15.346,15.298,15.382,15.278,15.314,15.242,15.362,15.29,15.338,15.222,15.37,15.306,15.266,15.39,15.286,15.35,15.25,15.318,
15.26,15.312,15.356,15.228,15.324,15.292,15.384,15.264,15.244,15.332,15.28,15.364,15.22,15.344,15.3,15.272,15.352,15.252,15.32,15.288,
15.338,15.445,15.238,15.298,15.37,15.226,15.318,15.286,15.258,15.35,15.206,15.306,15.33,15.246,15.362,15.266,15.222,15.326,15.294,15.274,
15.276,15.344,15.244,15.3,15.165,15.332,15.264,15.312,15.232,15.058,15.288,15.22,15.304,15.252,15.336,15.192,15.292,15.324,15.24,15.272,
15.257,15.329,15.221,15.353,15.277,15.201,15.309,15.245,15.373,15.269,15.209,15.333,15.233,15.297,15.361,15.193,15.317,15.261,15.345,15.229,
15.306,15.242,15.326,15.278,15.362,15.258,15.294,15.222,15.342,15.49,15.318,15.202,15.35,15.286,15.162,15.37,15.266,15.33,15.23,15.298,
15.265,15.318,15.35,15.233,15.329,15.297,15.379,15.259,15.249,15.338,15.285,15.369,15.225,15.338,15.462,15.277,15.347,15.257,15.325,15.283,
15.358,15.29,15.258,15.318,15.39,15.246,15.338,15.306,15.278,15.37,15.226,15.326,15.35,15.266,15.382,15.286,15.242,15.346,15.314,15.294,
15.321,15.389,15.289,15.345,15.249,15.377,15.309,15.357,15.277,15.401,15.333,15.265,15.349,15.297,15.381,15.237,15.337,15.369,15.285,15.317,
15.322,15.394,15.286,15.418,15.342,15.266,15.374,15.31,15.438,15.334,15.274,15.398,15.298,15.362,15.565,15.258,15.382,15.326,15.41,15.294,
15.386,15.322,15.406,15.358,15.548,15.338,15.374,15.302,15.422,15.35,15.398,15.282,15.43,15.366,15.326,15.45,15.346,15.41,15.31,15.378,
15.492,15.431,15.215,15.47];
const m6Damaged=[
15.342,15.414,15.306,15.438,15.362,15.286,15.394,15.33,15.458,15.354,15.294,15.418,15.318,15.382,15.21,15.278,15.402,15.346,15.43,15.314,
15.33,15.382,15.426,15.298,15.394,15.362,15.454,15.23,15.314,15.402,15.35,15.434,15.29,15.414,15.495,15.342,15.422,15.322,15.39,15.358,
15.351,15.419,15.319,15.375,15.279,15.407,15.339,15.387,15.307,15.431,15.363,15.295,15.379,15.327,15.411,15.267,15.367,15.399,15.315,15.347,
15.356,15.292,15.376,15.328,15.215,15.308,15.344,15.272,15.392,15.32,15.368,15.252,15.4,15.336,15.296,15.42,15.316,15.38,15.28,15.348,
15.368,15.2,15.268,15.328,15.4,15.256,15.348,15.316,15.288,15.38,15.236,15.336,15.36,15.276,15.392,15.296,15.252,15.356,15.46,15.304,
15.282,15.354,15.246,15.378,15.302,15.226,15.334,15.27,15.398,15.294,15.234,15.358,15.258,15.322,15.386,15.218,15.342,15.286,15.37,15.254,
15.255,15.165,15.351,15.223,15.319,15.287,15.379,15.259,15.239,15.327,15.275,15.359,15.215,15.339,15.295,15.267,15.347,15.247,15.315,15.283,
15.276,15.344,15.14,15.3,15.204,15.332,15.264,15.41,15.232,15.068,15.288,15.22,15.304,15.252,15.336,15.192,15.292,15.324,15.24,15.272,
15.276,15.212,15.296,15.248,15.332,15.228,15.264,15.192,15.312,15.24,15.288,15.172,15.32,15.256,15.216,15.34,15.236,15.3,15.2,15.125,
15.298,15.23,15.198,15.258,15.33,15.186,15.278,15.246,15.218,15.31,15.166,15.102,15.29,15.206,15.09,15.226,15.182,15.286,15.254,15.234,
15.217,15.289,15.181,15.313,15.237,15.161,15.269,15.075,15.333,15.229,15.169,15.293,15.193,15.257,15.321,15.153,15.277,15.221,15.305,15.189,
15.215,15.267,15.311,15.183,15.279,15.247,15.339,15.219,15.199,15.287,15.235,15.319,15.175,15.299,15.255,15.227,15.307,15.207,15.275,15.243,
15.266,15.334,15.234,15.29,15.194,15.322,15.254,15.302,15.222,15.346,15.278,15.21,15.294,15.242,15.326,15.182,15.282,15.314,15.23,15.262,
15.296,15.232,15.316,15.268,15.45,15.248,15.284,15.212,15.332,15.26,15.308,15.192,15.34,15.276,15.236,15.36,15.256,15.32,15.22,15.288,
15.338,15.27,15.238,15.298,15.37,15.226,15.318,15.286,15.258,15.35,15.206,15.306,15.33,15.246,15.362,15.266,15.222,15.326,15.294,15.274,
15.292,15.364,15.17,15.388,15.478,15.236,15.344,15.28,15.408,15.304,15.244,15.368,15.268,15.332,15.396,15.49,15.352,15.535,15.38,15.54,
15.3,15.352,15.396,15.268,15.364,15.332,15.424,15.304,15.284,15.47,15.32,15.404,15.26,15.384,15.34,15.312,15.392,15.292,15.36,15.328,
15.336,15.135,15.304,15.36,15.264,15.392,15.324,15.21,15.292,15.416,15.348,15.28,15.364,15.312,15.396,15.252,15.352,15.384,15.3,15.332,
15.255,15.38,15.435,15.3];

const panels=[
 {title:titles[0],und:m1Undamaged,dam:m1Damaged,color:damagedColors[0],yDomain:[3.551,4.354],yTicks:yTicks1,left:0,top:0,height:255,mT:18,mB:29,mL:46,mR:13,titleDy:-2.3,ylabDx:-30},
 {title:titles[1],und:m2Undamaged,dam:m2Damaged,color:damagedColors[1],yDomain:[5.406,6.203],yTicks:yTicks2,left:275,top:0,height:255,mT:20,mB:28,mL:44,mR:14,titleDy:-3.7,ylabDx:-30},
 {title:titles[2],und:m3Undamaged,dam:m3Damaged,color:damagedColors[2],yDomain:[6.529,7.33],yTicks:yTicks3,left:0,top:255,height:255,mT:17,mB:31,mL:46,mR:13,titleDy:-3,ylabDx:-30},
 {title:titles[3],und:m4Undamaged,dam:m4Damaged,color:damagedColors[3],yDomain:[9.629,10.43],yTicks:yTicks4,left:275,top:255,height:255,mT:17,mB:31,mL:44,mR:14,titleDy:-3,ylabDx:-35},
 {title:titles[4],und:m5Undamaged,dam:m5Damaged,color:damagedColors[4],yDomain:[11.886,12.671],yTicks:yTicks5,left:0,top:510,height:254,mT:18,mB:31,mL:46,mR:13,titleDy:-6.6,ylabDx:-35.7},
 {title:titles[5],und:m6Undamaged,dam:m6Damaged,color:damagedColors[5],yDomain:[14.9,15.686],yTicks:yTicks6,left:275,top:510,height:254,mT:18,mB:31,mL:44,mR:14,titleDy:-6.6,ylabDx:-35}
];

const wrap=document.getElementById("wrap");
const W=275;
const gridStyle={stroke:"#b0b0b0",strokeOpacity:1,strokeWidth:0.8};
for(const p of panels){
  const svg=Plot.plot({
    width:W,height:p.height,
    marginTop:p.mT,marginBottom:p.mB,marginLeft:p.mL,marginRight:p.mR,
    style:{fontFamily:"'DejaVu Sans', sans-serif",fontSize:"10px",color:"black",background:"transparent"},
    x:{domain:[0,375]},
    y:{domain:p.yDomain},
    marks:[
      Plot.gridX(xTicks,gridStyle),
      Plot.gridY(p.yTicks,gridStyle),
      Plot.dot(p.und,{x:(d,i)=>i+1,y:d=>d,r:1.5,fill:undamagedColor,stroke:null}),
      Plot.dot(p.dam,{x:(d,i)=>i+1,y:d=>d,r:1.5,fill:p.color,stroke:null}),
      Plot.frame({stroke:"#333",strokeWidth:1}),
      Plot.axisX(xTicks,{tickSize:3.5,tickPadding:1,fontSize:10,label:null}),
      Plot.axisY(p.yTicks,{tickSize:3.5,tickPadding:1.5,fontSize:10,tickFormat:d3.format(".1f"),label:null}),
      Plot.text([xLabel],{text:d=>d,frameAnchor:"bottom",dy:22.3,lineAnchor:"middle",fontSize:11.3}),
      Plot.text([yLabel],{text:d=>d,frameAnchor:"left",dx:p.ylabDx,rotate:-90,lineAnchor:"middle",fontSize:11.3}),
      Plot.text([p.title],{text:d=>d,frameAnchor:"top",dy:p.titleDy,lineAnchor:"bottom",fontSize:13})
    ]
  });
  svg.setAttribute("font-family","DejaVu Sans");
  svg.style.left=p.left+"px";
  svg.style.top=p.top+"px";
  // legend (lower right, inside the frame)
  const fr=W-p.mR, fb=p.height-p.mB;
  const bx=fr-99, by=fb-35;
  const g=d3.select(svg).append("g");
  g.append("rect").attr("x",bx).attr("y",by).attr("width",95).attr("height",30).attr("rx",2.5)
    .attr("fill","white").attr("fill-opacity",0.8).attr("stroke","#cccccc").attr("stroke-width",0.8);
  const cols=[undamagedColor,p.color];
  legendLabels.forEach((lab,k)=>{
    const yy=by+8+k*14.3;
    g.append("circle").attr("cx",bx+14).attr("cy",yy).attr("r",1.5).attr("fill",cols[k]);
    g.append("text").attr("x",bx+32.3).attr("y",yy).attr("dy","0.35em").attr("font-size",9.5)
      .attr("text-anchor","start").attr("font-family","DejaVu Sans").attr("fill","black").text(lab);
  });
  wrap.appendChild(svg);
}
</script></body></html>
